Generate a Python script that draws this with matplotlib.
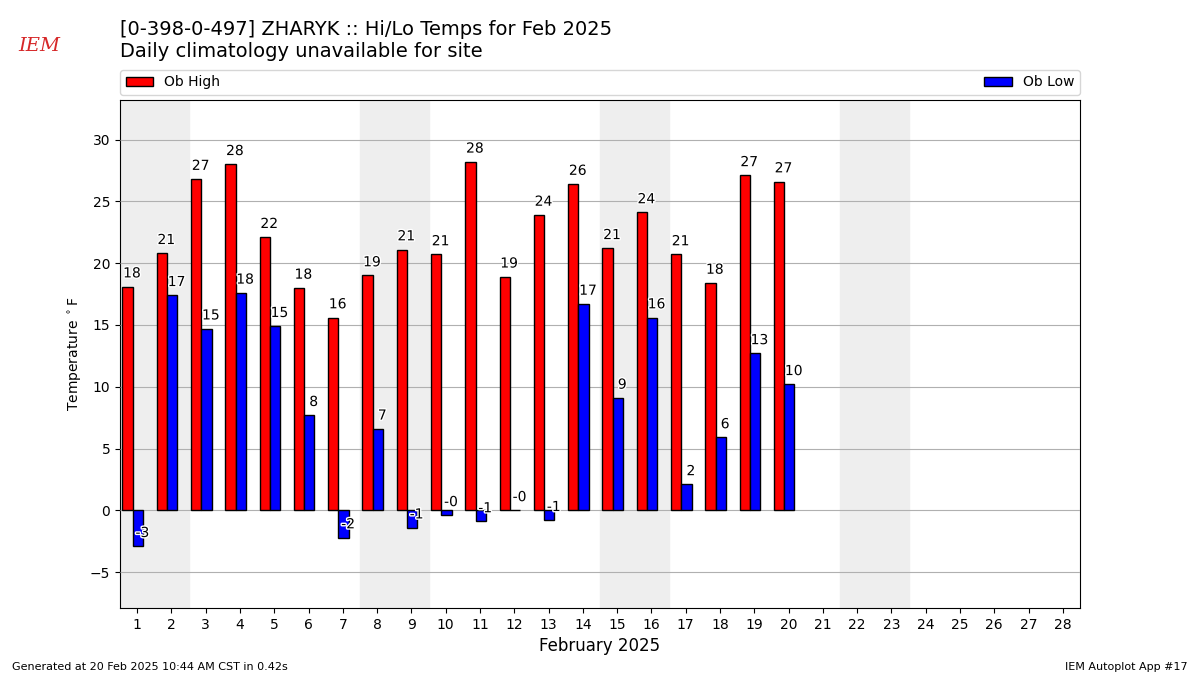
import numpy as np
import matplotlib.pyplot as plt
import matplotlib.patheffects as pe

days = np.arange(1, 21)
highs = [18.1, 20.8, 26.8, 28.0, 22.1, 18.0, 15.6, 19.0, 21.1, 20.7,
         28.2, 18.9, 23.9, 26.4, 21.2, 24.1, 20.7, 18.4, 27.1, 26.6]
lows = [-2.9, 17.4, 14.7, 17.6, 14.9, 7.7, -2.2, 6.6, -1.4, -0.4,
        -0.9, -0.0, -0.8, 16.7, 9.1, 15.6, 2.1, 5.9, 12.7, 10.2]
weekends = [(1, 2), (8, 9), (15, 16), (22, 23)]
month_days = np.arange(1, 29)

fig = plt.figure(figsize=(12, 6.75), dpi=100)
ax = fig.add_axes([0.1, 0.0993, 0.8, 0.7526])

####weekend_shading####
for a, b in weekends:
    ax.axvspan(a - 0.5, b + 0.5, color='#eeeeee', zorder=0)

ax.bar(days - 0.28, highs, width=0.3, color='r', edgecolor='k', label='Ob High', zorder=3)
ax.bar(days + 0.02, lows, width=0.3, color='b', edgecolor='k', label='Ob Low', zorder=3)

stroke = [pe.withStroke(linewidth=2, foreground='white')]
for d, h, l in zip(days, highs, lows):
    ax.text(d - 0.15, h + 0.5, "%.0f" % h, ha='center', va='bottom', fontsize=10,
            path_effects=stroke, zorder=4)
    ax.text(d + 0.15, l + 0.5, "%.0f" % l, ha='center', va='bottom', fontsize=10,
            path_effects=stroke, zorder=4)

ax.grid(axis='y', zorder=1)
ax.set_axisbelow(False)
ax.set_xlim(0.5, 28.5)
ax.set_ylim(min(lows) - 5, max(highs) + 5)
ax.set_xticks(month_days)
ax.set_xlabel("February 2025", fontsize=12)
ax.set_ylabel(r"Temperature $^\circ$F")
ax.legend(bbox_to_anchor=(0, 1.01, 1, 0.05), loc='lower left', mode='expand',
          ncol=2, borderaxespad=0)

fig.text(0.1, 0.97, "[0-398-0-497] ZHARYK :: Hi/Lo Temps for Feb 2025\n"
         "Daily climatology unavailable for site", fontsize=14, va='top', ha='left')
fig.text(0.015, 0.925, "IEM", color='#d62728', fontsize=14, family='serif',
         style='italic')
fig.text(0.01, 0.008, "Generated at 20 Feb 2025 10:44 AM CST in 0.42s", fontsize=8)
fig.text(0.99, 0.008, "IEM Autoplot App #17", fontsize=8, ha='right')

plt.savefig('out.png')
